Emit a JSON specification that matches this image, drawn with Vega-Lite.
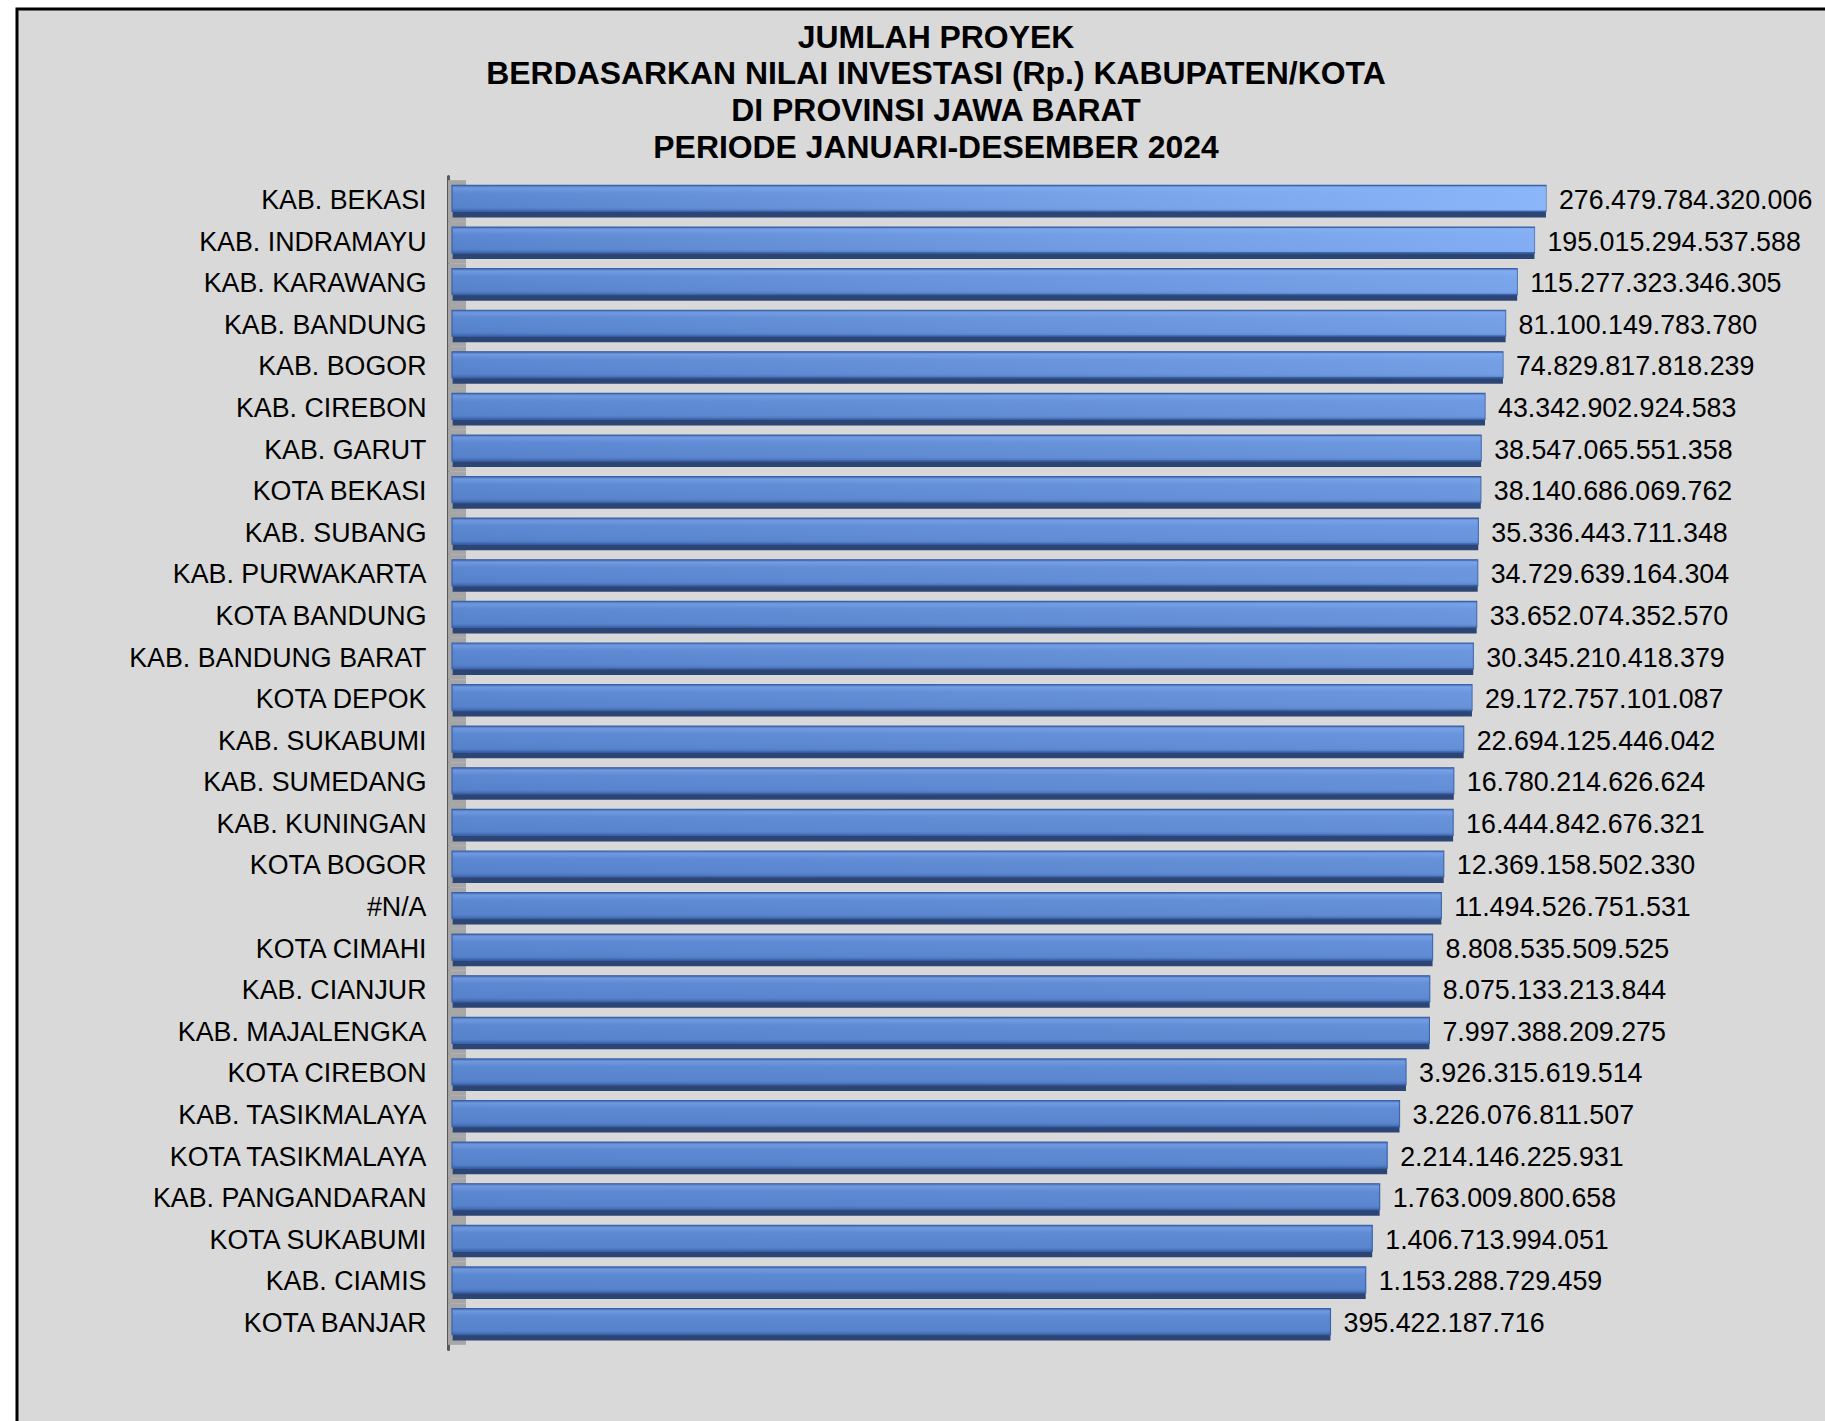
{
  "$schema": "https://vega.github.io/schema/vega-lite/v6.json",
  "autosize": "none",
  "padding": {"left": 17, "top": 9, "right": 0, "bottom": 0},
  "width": 1808,
  "height": 1412,
  "background": "#ffffff",
  "config": {
    "locale": {"number": {"decimal": ",", "thousands": ".", "grouping": [3], "currency": ["Rp", ""]}},
    "view": {"fill": "#d9d9d9", "stroke": "#000000", "strokeWidth": 3, "strokeDash": [1808, 3220, 1414, 0]},
    "font": "Liberation Sans"
  },
  "title": {
    "text": ["JUMLAH PROYEK", "BERDASARKAN NILAI INVESTASI (Rp.) KABUPATEN/KOTA", "DI PROVINSI JAWA BARAT", "PERIODE JANUARI-DESEMBER 2024"],
    "font": "Liberation Sans",
    "fontSize": 31.9,
    "fontWeight": "bold",
    "color": "#000000",
    "lineHeight": 36.8,
    "anchor": "middle",
    "frame": "group",
    "baseline": "top",
    "offset": -156,
    "dx": 15
  },
  "data": {
    "values": [
      {"name": "KAB. BEKASI", "value": 276479784320006},
      {"name": "KAB. INDRAMAYU", "value": 195015294537588},
      {"name": "KAB. KARAWANG", "value": 115277323346305},
      {"name": "KAB. BANDUNG", "value": 81100149783780},
      {"name": "KAB. BOGOR", "value": 74829817818239},
      {"name": "KAB. CIREBON", "value": 43342902924583},
      {"name": "KAB. GARUT", "value": 38547065551358},
      {"name": "KOTA BEKASI", "value": 38140686069762},
      {"name": "KAB. SUBANG", "value": 35336443711348},
      {"name": "KAB. PURWAKARTA", "value": 34729639164304},
      {"name": "KOTA BANDUNG", "value": 33652074352570},
      {"name": "KAB. BANDUNG BARAT", "value": 30345210418379},
      {"name": "KOTA DEPOK", "value": 29172757101087},
      {"name": "KAB. SUKABUMI", "value": 22694125446042},
      {"name": "KAB. SUMEDANG", "value": 16780214626624},
      {"name": "KAB. KUNINGAN", "value": 16444842676321},
      {"name": "KOTA BOGOR", "value": 12369158502330},
      {"name": "#N/A", "value": 11494526751531},
      {"name": "KOTA CIMAHI", "value": 8808535509525},
      {"name": "KAB. CIANJUR", "value": 8075133213844},
      {"name": "KAB. MAJALENGKA", "value": 7997388209275},
      {"name": "KOTA CIREBON", "value": 3926315619514},
      {"name": "KAB. TASIKMALAYA", "value": 3226076811507},
      {"name": "KOTA TASIKMALAYA", "value": 2214146225931},
      {"name": "KAB. PANGANDARAN", "value": 1763009800658},
      {"name": "KOTA SUKABUMI", "value": 1406713994051},
      {"name": "KAB. CIAMIS", "value": 1153288729459},
      {"name": "KOTA BANJAR", "value": 395422187716}
    ]
  },
  "encoding": {
    "y": {
      "field": "name",
      "type": "nominal",
      "sort": null,
      "scale": {"range": [167, 1340], "paddingInner": 0, "paddingOuter": 0.1},
      "axis": {
        "title": null,
        "orient": "left",
        "offset": -431,
        "ticks": false,
        "domainColor": "#595959",
        "domainWidth": 3,
        "domainCap": "round",
        "labelFont": "Liberation Sans",
        "labelFontSize": 26.8,
        "labelColor": "#000000",
        "labelPadding": 22,
        "labelLimit": 0,
        "labelAlign": "right",
        "labelBaseline": "middle",
        "grid": false
      }
    }
  },
  "layer": [
    {
      "mark": {"type": "bar", "color": "#a6a6a6", "height": {"band": 1}},
      "encoding": {
        "x": {"datum": 0.885, "type": "quantitative", "scale": {"type": "log", "domain": [1.809e-6, 1.335e18], "nice": false, "zero": false}, "axis": null},
        "x2": {"datum": 1.53}
      }
    },
    {
      "mark": {"type": "bar", "color": "#2d4574", "height": 32, "yOffset": 0.5},
      "encoding": {
        "x": {"field": "value", "type": "quantitative", "scale": {"type": "log", "domain": [1.809e-6, 1.335e18], "nice": false, "zero": false}, "axis": null},
        "x2": {"datum": 1.02}
      }
    },
    {
      "mark": {
        "type": "bar",
        "height": 26,
        "yOffset": -2.5,
        "stroke": "#3a62a8",
        "strokeWidth": 1.2,
        "fill": {
          "gradient": "linear", "x1": 0, "y1": 0, "x2": 0, "y2": 1,
          "stops": [
            {"offset": 0, "color": "#4a72b8"},
            {"offset": 0.1, "color": "#6f98df"},
            {"offset": 0.3, "color": "#5c88d1"},
            {"offset": 0.85, "color": "#5682cb"},
            {"offset": 1, "color": "#3f66aa"}
          ]
        }
      },
      "encoding": {
        "x": {"field": "value", "type": "quantitative", "scale": {"type": "log", "domain": [1.809e-6, 1.335e18], "nice": false, "zero": false}, "axis": null},
        "x2": {"datum": 1}
      }
    },
    {
      "mark": {
        "type": "bar",
        "height": 24,
        "yOffset": -2.5,
        "fill": {
          "gradient": "linear", "x1": 0, "y1": 0, "x2": 1, "y2": 0,
          "stops": [
            {"offset": 0, "color": "rgba(140,182,250,0)"},
            {"offset": 1, "color": "rgba(140,182,250,1)"}
          ]
        }
      },
      "encoding": {
        "x": {"field": "value", "type": "quantitative", "scale": {"type": "log", "domain": [1.809e-6, 1.335e18], "nice": false, "zero": false}, "axis": null},
        "x2": {"datum": 1},
        "opacity": {"field": "value", "type": "quantitative", "scale": {"type": "sqrt", "domain": [0, 276479784320006], "range": [0, 1], "zero": true}, "legend": null}
      }
    },
    {
      "mark": {"type": "text", "align": "left", "baseline": "middle", "dx": 13, "dy": 0, "fontSize": 26.8, "font": "Liberation Sans", "color": "#000000"},
      "encoding": {
        "x": {"field": "value", "type": "quantitative", "scale": {"type": "log", "domain": [1.809e-6, 1.335e18], "nice": false, "zero": false}, "axis": null},
        "text": {"field": "value", "type": "quantitative", "format": ",.0f"}
      }
    }
  ]
}
